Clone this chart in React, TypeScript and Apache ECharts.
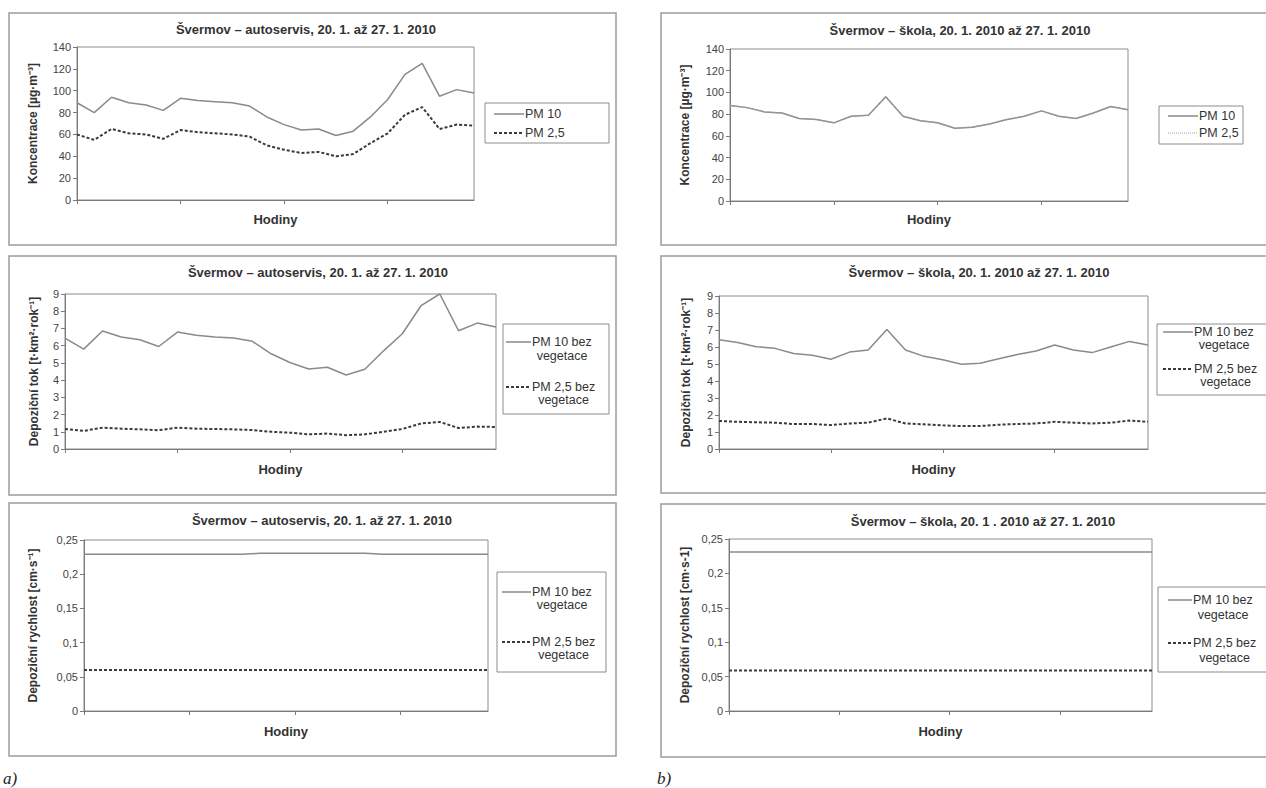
import React, { useEffect, useRef } from 'react';
import * as echarts from 'echarts';

// ---------- data ----------
const hours = ['1', '2', '3', '4', '5', '6', '7', '8', '9', '10', '11', '12', '13', '14', '15', '16', '17', '18', '19', '20', '21', '22', '23', '24'];

const autoservisConcPM10 = [89, 80, 94, 89, 87, 82, 93, 91, 90, 89, 86, 76, 69, 64, 65, 59, 63, 76, 92, 115, 125, 95, 101, 98];
const autoservisConcPM25 = [60, 55, 65, 61, 60, 56, 64, 62, 61, 60, 58, 50, 46, 43, 44, 40, 42, 52, 61, 78, 85, 65, 69, 68];

const skolaConcPM10 = [88, 86, 82, 81, 76, 75, 72, 78, 79, 96, 78, 74, 72, 67, 68, 71, 75, 78, 83, 78, 76, 81, 87, 84];
const skolaConcPM25 = [88, 86, 82, 81, 76, 75, 72, 78, 79, 96, 78, 74, 72, 67, 68, 71, 75, 78, 83, 78, 76, 81, 87, 84];

const autoservisTokPM10 = [6.44, 5.8, 6.85, 6.5, 6.34, 5.95, 6.79, 6.6, 6.5, 6.44, 6.25, 5.53, 5.02, 4.65, 4.75, 4.3, 4.63, 5.7, 6.69, 8.32, 9.0, 6.87, 7.31, 7.08];
const autoservisTokPM25 = [1.16, 1.05, 1.24, 1.18, 1.14, 1.09, 1.24, 1.18, 1.16, 1.14, 1.1, 1.0, 0.95, 0.85, 0.9, 0.8, 0.85, 1.0, 1.16, 1.48, 1.57, 1.22, 1.3, 1.28];

const skolaTokPM10 = [6.42, 6.27, 6.02, 5.92, 5.62, 5.52, 5.28, 5.7, 5.82, 7.03, 5.82, 5.45, 5.25, 4.98, 5.05, 5.31, 5.56, 5.76, 6.12, 5.82, 5.67, 6.0, 6.33, 6.12];
const skolaTokPM25 = [1.65, 1.6, 1.57, 1.55, 1.47, 1.47, 1.41, 1.5, 1.55, 1.8, 1.5, 1.45, 1.39, 1.35, 1.35, 1.43, 1.47, 1.5, 1.6, 1.55, 1.5, 1.55, 1.67, 1.6];

const autoservisRychPM10 = [0.229, 0.229, 0.229, 0.229, 0.229, 0.229, 0.229, 0.229, 0.229, 0.229, 0.2305, 0.2305, 0.2305, 0.2305, 0.2305, 0.2305, 0.2305, 0.229, 0.229, 0.229, 0.229, 0.229, 0.229, 0.229];
const autoservisRychPM25 = [0.06, 0.06, 0.06, 0.06, 0.06, 0.06, 0.06, 0.06, 0.06, 0.06, 0.06, 0.06, 0.06, 0.06, 0.06, 0.06, 0.06, 0.06, 0.06, 0.06, 0.06, 0.06, 0.06, 0.06];

const skolaRychPM10 = [0.231, 0.231, 0.231, 0.231, 0.231, 0.231, 0.231, 0.231, 0.231, 0.231, 0.231, 0.231, 0.231, 0.231, 0.231, 0.231, 0.231, 0.231, 0.231, 0.231, 0.231, 0.231, 0.231, 0.231];
const skolaRychPM25 = [0.059, 0.059, 0.059, 0.059, 0.059, 0.059, 0.059, 0.059, 0.059, 0.059, 0.059, 0.059, 0.059, 0.059, 0.059, 0.059, 0.059, 0.059, 0.059, 0.059, 0.059, 0.059, 0.059, 0.059];

const titles = [
  'Švermov – autoservis, 20. 1. až 27. 1. 2010',
  'Švermov – škola, 20. 1. 2010 až 27. 1. 2010',
  'Švermov – autoservis, 20. 1. až 27. 1. 2010',
  'Švermov – škola, 20. 1. 2010 až 27. 1. 2010',
  'Švermov – autoservis, 20. 1. až 27. 1. 2010',
  'Švermov – škola, 20. 1 . 2010 až 27. 1. 2010',
];
const yNames = [
  'Koncentrace [µg·m⁻³]',
  'Koncentrace [µg·m⁻³]',
  'Depoziční tok [t·km²·rok⁻¹]',
  'Depoziční tok [t·km²·rok⁻¹]',
  'Depoziční rychlost [cm·s⁻¹]',
  'Depoziční rychlost [cm·s-1]',
];
const xName = 'Hodiny';
const legendShort = ['PM 10', 'PM 2,5'];
const legendLong = ['PM 10 bez\nvegetace', 'PM 2,5 bez\nvegetace'];

// ---------- styles / layout ----------
const FONT = '"Liberation Sans", Arial, Helvetica, sans-serif';
const GRAY_LINE = { color: '#8a8a8a', width: 1.5, type: 'solid' as any };
const DASH_LINE = { color: '#3a3a3a', width: 2, type: [3, 2] as any };
const DOT_LINE = { color: '#a0a0a0', width: 1.2, type: [1, 1] as any };

type PanelCfg = {
  grid: { left: number; top: number; width: number; height: number };
  yMax: number;
  yInterval: number;
  yNameGap: number;
  xNameGap: number;
  titleX: number;
  titleY: number;
  border: [number, number, number, number];
  legendBox: [number, number, number, number];
  legendLineX: [number, number];
  legendRows: number[];
  long: boolean;
  series: { data: number[]; style: any; name: string }[];
};

const panels: PanelCfg[] = [
  {
    grid: { left: 77, top: 47, width: 397, height: 153 },
    yMax: 140, yInterval: 20, yNameGap: 38, xNameGap: 13,
    titleX: 306, titleY: 31,
    border: [9, 13, 607, 232],
    legendBox: [485, 103, 124, 40],
    legendLineX: [494, 524],
    legendRows: [114, 133],
    long: false,
    series: [
      { data: autoservisConcPM10, style: GRAY_LINE, name: legendShort[0] },
      { data: autoservisConcPM25, style: DASH_LINE, name: legendShort[1] },
    ],
  },
  {
    grid: { left: 730, top: 49, width: 398, height: 152 },
    yMax: 140, yInterval: 20, yNameGap: 39, xNameGap: 12,
    titleX: 960, titleY: 32,
    border: [661, 13, 620, 232],
    legendBox: [1159, 106, 84, 38],
    legendLineX: [1168, 1198],
    legendRows: [116, 133],
    long: false,
    series: [
      { data: skolaConcPM10, style: GRAY_LINE, name: legendShort[0] },
      { data: skolaConcPM25, style: DOT_LINE, name: legendShort[1] },
    ],
  },
  {
    grid: { left: 65, top: 294, width: 431, height: 155 },
    yMax: 9, yInterval: 1, yNameGap: 25, xNameGap: 14,
    titleX: 318, titleY: 274,
    border: [9, 256, 607, 239],
    legendBox: [503, 324, 106, 90],
    legendLineX: [506, 531],
    legendRows: [342, 356, 387, 400],
    long: true,
    series: [
      { data: autoservisTokPM10, style: GRAY_LINE, name: legendLong[0] },
      { data: autoservisTokPM25, style: DASH_LINE, name: legendLong[1] },
    ],
  },
  {
    grid: { left: 719, top: 296, width: 429, height: 153 },
    yMax: 9, yInterval: 1, yNameGap: 27, xNameGap: 14,
    titleX: 979, titleY: 274,
    border: [661, 256, 620, 237],
    legendBox: [1157, 324, 120, 71],
    legendLineX: [1163, 1193],
    legendRows: [332, 345, 369, 382],
    long: true,
    series: [
      { data: skolaTokPM10, style: GRAY_LINE, name: legendLong[0] },
      { data: skolaTokPM25, style: DASH_LINE, name: legendLong[1] },
    ],
  },
  {
    grid: { left: 84, top: 540, width: 404, height: 171 },
    yMax: 0.25, yInterval: 0.05, yNameGap: 45, xNameGap: 14,
    titleX: 322, titleY: 522,
    border: [9, 503, 607, 253],
    legendBox: [497, 572, 109, 100],
    legendLineX: [502, 531],
    legendRows: [592, 605, 642, 655],
    long: true,
    series: [
      { data: autoservisRychPM10, style: GRAY_LINE, name: legendLong[0] },
      { data: autoservisRychPM25, style: DASH_LINE, name: legendLong[1] },
    ],
  },
  {
    grid: { left: 729, top: 539, width: 423, height: 172 },
    yMax: 0.25, yInterval: 0.05, yNameGap: 38, xNameGap: 14,
    titleX: 983, titleY: 523,
    border: [661, 504, 620, 253],
    legendBox: [1158, 587, 120, 85],
    legendLineX: [1168, 1192],
    legendRows: [600, 615, 643, 658],
    long: true,
    series: [
      { data: skolaRychPM10, style: GRAY_LINE, name: legendLong[0] },
      { data: skolaRychPM25, style: DASH_LINE, name: legendLong[1] },
    ],
  },
];

const fmtComma = (v: number) => {
  const r = Math.round(v * 1000) / 1000;
  return String(r).replace('.', ',');
};

function buildOption() {
  const grid: any[] = [];
  const xAxis: any[] = [];
  const yAxis: any[] = [];
  const series: any[] = [];
  const title: any[] = [];
  const graphic: any[] = [];

  panels.forEach((p, i) => {
    grid.push({
      left: p.grid.left, top: p.grid.top, width: p.grid.width, height: p.grid.height,
      show: true, borderColor: '#8c8c8c', borderWidth: 1, backgroundColor: 'transparent',
    });
    xAxis.push({
      type: 'category', gridIndex: i, data: hours, boundaryGap: false,
      axisLine: { show: true, lineStyle: { color: '#7a7a7a', width: 1 } },
      axisTick: { show: true, length: 4, interval: (idx: number) => idx % 6 === 0, lineStyle: { color: '#7a7a7a' } },
      axisLabel: { show: false },
      splitLine: { show: false },
      name: xName, nameLocation: 'middle', nameGap: p.xNameGap,
      nameTextStyle: { fontFamily: FONT, fontWeight: 'bold', fontSize: 13, color: '#333' },
    });
    yAxis.push({
      type: 'value', gridIndex: i, min: 0, max: p.yMax, interval: p.yInterval,
      axisLine: { show: true, lineStyle: { color: '#7a7a7a', width: 1 } },
      axisTick: { show: true, length: 4, lineStyle: { color: '#7a7a7a' } },
      axisLabel: {
        fontFamily: FONT, fontSize: 11, color: '#444', margin: 6,
        formatter: p.yMax < 1 ? fmtComma : (v: number) => String(v),
      },
      splitLine: { show: false },
      name: yNames[i], nameLocation: 'middle', nameRotate: 90, nameGap: p.yNameGap,
      nameTextStyle: { fontFamily: FONT, fontWeight: 'bold', fontSize: 12, color: '#333' },
    });
    p.series.forEach((s) => {
      series.push({
        type: 'line', name: s.name, xAxisIndex: i, yAxisIndex: i, data: s.data,
        symbol: 'none', showSymbol: false, smooth: false, silent: true,
        lineStyle: s.style,
      });
    });
    title.push({
      text: titles[i], left: p.titleX, top: p.titleY - 8, textAlign: 'center', padding: 0,
      textStyle: { fontFamily: FONT, fontWeight: 'bold', fontSize: 13, color: '#333' },
    });
    // panel border
    graphic.push({
      type: 'rect', silent: true, z: -1,
      shape: { x: p.border[0], y: p.border[1], width: p.border[2], height: p.border[3] },
      style: { fill: 'none', stroke: '#9c9c9c', lineWidth: 1.5 },
    });
    // legend
    const [bx, by, bw, bh] = p.legendBox;
    graphic.push({
      type: 'rect', silent: true,
      shape: { x: bx, y: by, width: bw, height: bh },
      style: { fill: '#fff', stroke: '#8c8c8c', lineWidth: 1 },
    });
    p.series.forEach((s, k) => {
      const rowY = p.long ? p.legendRows[k * 2] : p.legendRows[k];
      const st = s.style;
      graphic.push({
        type: 'line', silent: true,
        shape: { x1: p.legendLineX[0], y1: rowY, x2: p.legendLineX[1], y2: rowY },
        style: {
          stroke: st.color, lineWidth: st.width,
          lineDash: Array.isArray(st.type) ? st.type : null,
        },
      });
      if (p.long) {
        const lines = s.name.split('\n');
        const firstW = k === 0 ? 60 : 63;
        const cx = p.legendLineX[1] + 1 + firstW / 2;
        graphic.push({
          type: 'text', silent: true,
          x: p.legendLineX[1] + 1, y: rowY,
          style: { text: lines[0], fontFamily: FONT, fontSize: 12.5, fill: '#333', align: 'left', verticalAlign: 'middle' },
        });
        graphic.push({
          type: 'text', silent: true,
          x: cx, y: p.legendRows[k * 2 + 1],
          style: { text: lines[1], fontFamily: FONT, fontSize: 12.5, fill: '#333', align: 'center', verticalAlign: 'middle' },
        });
      } else {
        graphic.push({
          type: 'text', silent: true,
          x: p.legendLineX[1] + 1, y: rowY,
          style: { text: s.name, fontFamily: FONT, fontSize: 12.5, fill: '#333', align: 'left', verticalAlign: 'middle' },
        });
      }
    });
  });

  graphic.push({
    type: 'text', silent: true, x: 3, y: 778,
    style: { text: 'a)', fontFamily: '"Liberation Serif", "Times New Roman", serif', fontStyle: 'italic', fontSize: 17, fill: '#222', verticalAlign: 'middle' },
  });
  graphic.push({
    type: 'text', silent: true, x: 657, y: 778,
    style: { text: 'b)', fontFamily: '"Liberation Serif", "Times New Roman", serif', fontStyle: 'italic', fontSize: 17, fill: '#222', verticalAlign: 'middle' },
  });

  return {
    animation: false,
    backgroundColor: '#ffffff',
    textStyle: { fontFamily: FONT },
    title,
    grid,
    xAxis,
    yAxis,
    series,
    graphic,
  };
}

export default function App() {
  const ref = useRef<HTMLDivElement>(null);
  useEffect(() => {
    if (!ref.current) return;
    const chart = echarts.init(ref.current, undefined, { renderer: 'svg' });
    chart.setOption(buildOption() as any);
    return () => chart.dispose();
  }, []);
  return (
    <div
      ref={ref}
      style={{ position: 'fixed', left: 0, top: 0, width: 1266, height: 788, background: '#fff' }}
    />
  );
}
